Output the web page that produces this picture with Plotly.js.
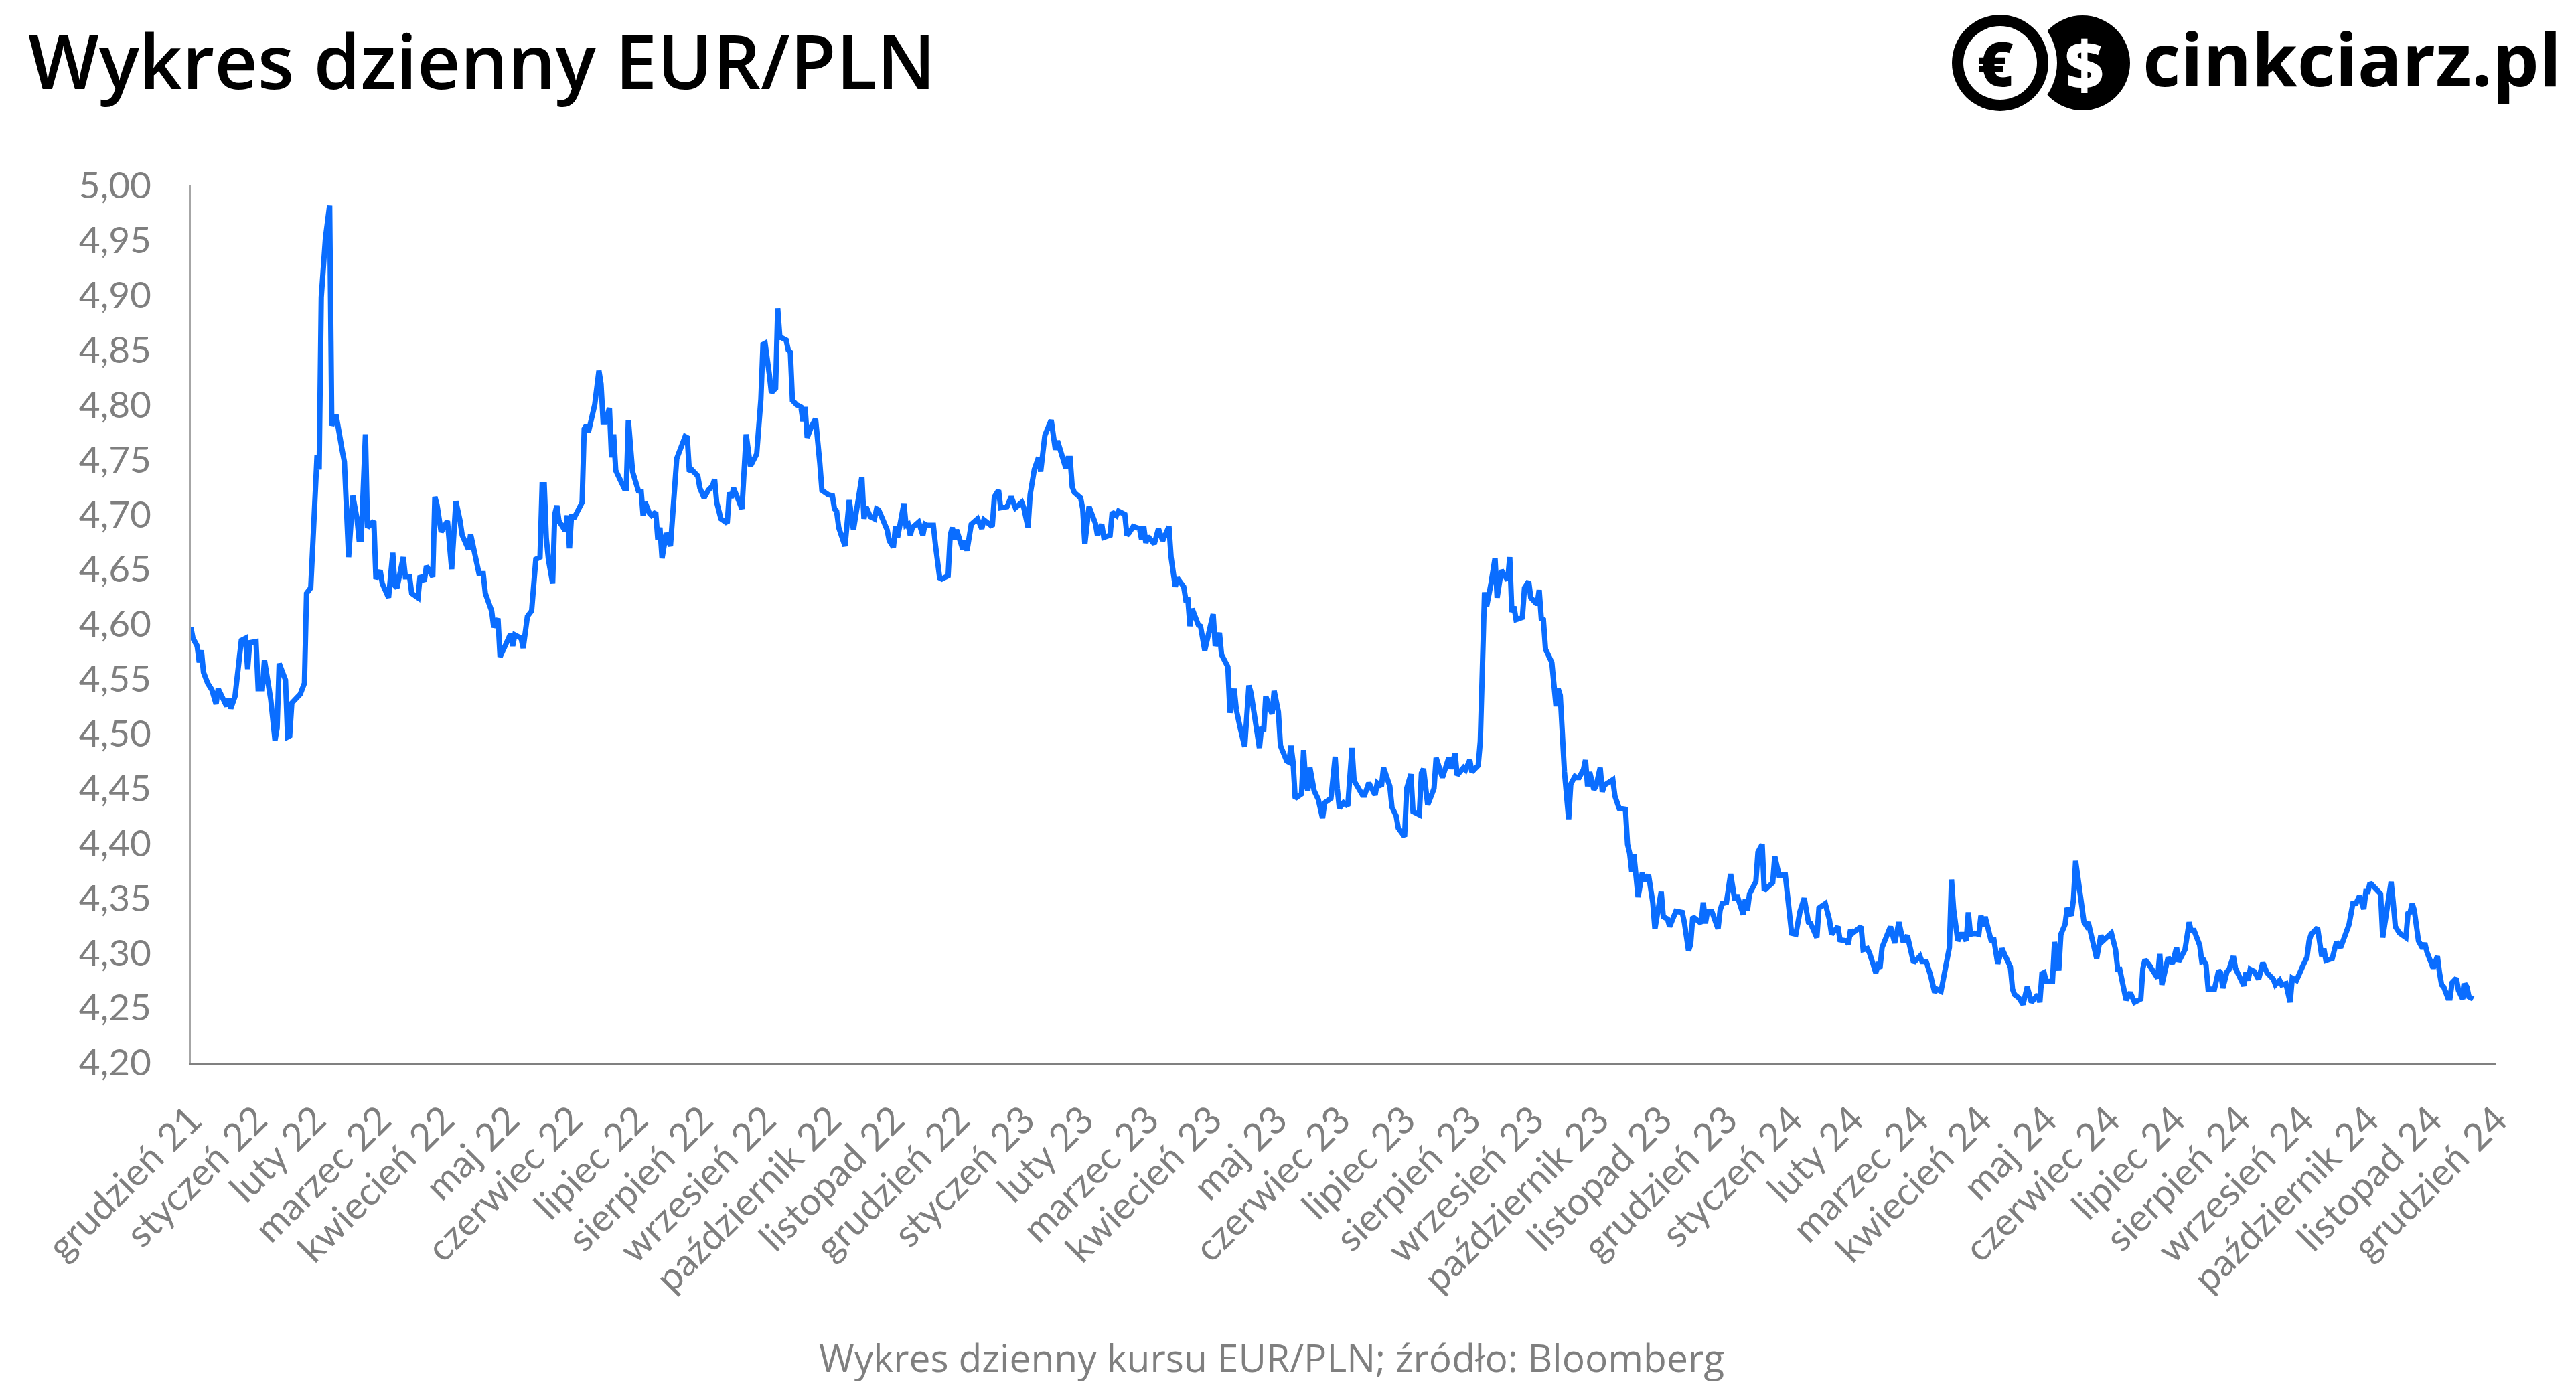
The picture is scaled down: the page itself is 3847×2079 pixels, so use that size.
<!DOCTYPE html>
<html>
<head>
<meta charset="utf-8">
<script src="https://cdn.plot.ly/plotly-3.0.1.min.js"></script>
<style>
html,body{margin:0;padding:0;background:#fff;}
#chart{width:3847px;height:2079px;}
</style>
</head>
<body>
<div id="chart"></div>
<script>
// ---- DATA ----
const dates = [
"2021-12-31","2022-01-01","2022-01-03","2022-01-04","2022-01-05","2022-01-06","2022-01-08","2022-01-10","2022-01-12","2022-01-13",
"2022-01-17","2022-01-18","2022-01-19","2022-01-21","2022-01-24","2022-01-26","2022-01-27","2022-01-28","2022-01-31","2022-02-01",
"2022-02-03","2022-02-04","2022-02-07","2022-02-09","2022-02-10","2022-02-11","2022-02-13","2022-02-14","2022-02-15","2022-02-16",
"2022-02-17","2022-02-21","2022-02-23","2022-02-24","2022-02-26","2022-02-28","2022-03-01","2022-03-02","2022-03-03","2022-03-05",
"2022-03-07","2022-03-08","2022-03-10","2022-03-13","2022-03-14","2022-03-16","2022-03-17","2022-03-18","2022-03-20","2022-03-21",
"2022-03-22","2022-03-24","2022-03-25","2022-03-28","2022-03-29","2022-03-31","2022-04-01","2022-04-04","2022-04-06","2022-04-07",
"2022-04-08","2022-04-11","2022-04-12","2022-04-14","2022-04-15","2022-04-18","2022-04-19","2022-04-21","2022-04-22","2022-04-25",
"2022-04-26","2022-04-27","2022-04-29","2022-05-02","2022-05-04","2022-05-06","2022-05-08","2022-05-09","2022-05-12","2022-05-13",
"2022-05-17","2022-05-19","2022-05-20","2022-05-23","2022-05-24","2022-05-26","2022-05-27","2022-05-30","2022-06-01","2022-06-02",
"2022-06-03","2022-06-06","2022-06-07","2022-06-09","2022-06-11","2022-06-13","2022-06-15","2022-06-16","2022-06-17","2022-06-18",
"2022-06-19","2022-06-21","2022-06-22","2022-06-23","2022-06-24","2022-06-27","2022-06-28","2022-06-29","2022-06-30","2022-07-01",
"2022-07-05","2022-07-06","2022-07-07","2022-07-08","2022-07-11","2022-07-13","2022-07-14","2022-07-15","2022-07-16","2022-07-18",
"2022-07-19","2022-07-20","2022-07-21","2022-07-25","2022-07-26","2022-07-27","2022-07-29","2022-08-01","2022-08-02","2022-08-03",
"2022-08-04","2022-08-06","2022-08-07","2022-08-09","2022-08-10","2022-08-11","2022-08-12","2022-08-14","2022-08-16","2022-08-19",
"2022-08-21","2022-08-23","2022-08-24","2022-08-25","2022-08-26","2022-08-29","2022-08-30","2022-09-01","2022-09-03","2022-09-05",
"2022-09-06","2022-09-07","2022-09-09","2022-09-12","2022-09-13","2022-09-14","2022-09-15","2022-09-19","2022-09-21","2022-09-23",
"2022-09-26","2022-09-28","2022-09-29","2022-09-30","2022-10-02","2022-10-03","2022-10-05","2022-10-06","2022-10-07","2022-10-10",
"2022-10-11","2022-10-12","2022-10-13","2022-10-15","2022-10-17","2022-10-18","2022-10-19","2022-10-20","2022-10-22","2022-10-24",
"2022-10-26","2022-10-27","2022-10-30","2022-11-01","2022-11-02","2022-11-03","2022-11-04","2022-11-07","2022-11-09","2022-11-11",
"2022-11-13","2022-11-15","2022-11-16","2022-11-17","2022-11-19","2022-11-21","2022-11-22","2022-11-23","2022-11-25","2022-11-27",
"2022-11-28","2022-11-30","2022-12-01","2022-12-02","2022-12-05","2022-12-06","2022-12-07","2022-12-08","2022-12-09","2022-12-12",
"2022-12-14","2022-12-15","2022-12-16","2022-12-19","2022-12-20","2022-12-22","2022-12-23","2022-12-26","2022-12-27","2022-12-28",
"2022-12-29","2022-12-30","2023-01-02","2023-01-03","2023-01-04","2023-01-05","2023-01-06","2023-01-09","2023-01-11","2023-01-12",
"2023-01-16","2023-01-17","2023-01-19","2023-01-20","2023-01-23","2023-01-25","2023-01-27","2023-01-30","2023-01-31","2023-02-02",
"2023-02-03","2023-02-05","2023-02-07","2023-02-08","2023-02-10","2023-02-13","2023-02-15","2023-02-16","2023-02-20","2023-02-21",
"2023-02-22","2023-02-23","2023-02-24","2023-02-27","2023-02-28","2023-03-01","2023-03-03","2023-03-06","2023-03-07","2023-03-09",
"2023-03-10","2023-03-13","2023-03-14","2023-03-16","2023-03-17","2023-03-20","2023-03-21","2023-03-22","2023-03-24","2023-03-27",
"2023-03-28","2023-03-29","2023-03-30","2023-03-31","2023-04-03","2023-04-05","2023-04-07","2023-04-10","2023-04-11","2023-04-13",
"2023-04-14","2023-04-17","2023-04-18","2023-04-19","2023-04-20","2023-04-21","2023-04-24","2023-04-25","2023-04-27","2023-05-01",
"2023-05-02","2023-05-04","2023-05-05","2023-05-08","2023-05-09","2023-05-11","2023-05-12","2023-05-14","2023-05-16","2023-05-18",
"2023-05-19","2023-05-23","2023-05-24","2023-05-25","2023-05-26","2023-05-29","2023-05-30","2023-06-01","2023-06-02","2023-06-05",
"2023-06-06","2023-06-07","2023-06-08","2023-06-09","2023-06-12","2023-06-13","2023-06-14","2023-06-15","2023-06-16","2023-06-18",
"2023-06-20","2023-06-22","2023-06-23","2023-06-26","2023-06-28","2023-06-29","2023-06-30","2023-07-02","2023-07-04","2023-07-06",
"2023-07-07","2023-07-11","2023-07-12","2023-07-14","2023-07-17","2023-07-18","2023-07-20","2023-07-21","2023-07-24","2023-07-25",
"2023-07-27","2023-07-28","2023-07-31","2023-08-01","2023-08-03","2023-08-04","2023-08-07","2023-08-08","2023-08-09","2023-08-11",
"2023-08-14","2023-08-15","2023-08-16","2023-08-18","2023-08-21","2023-08-22","2023-08-24","2023-08-25","2023-08-28","2023-08-29",
"2023-08-31","2023-09-01","2023-09-04","2023-09-05","2023-09-07","2023-09-08","2023-09-10","2023-09-12","2023-09-13","2023-09-15",
"2023-09-18","2023-09-19","2023-09-20","2023-09-21","2023-09-22","2023-09-25","2023-09-26","2023-09-28","2023-09-29","2023-10-02",
"2023-10-03","2023-10-04","2023-10-05","2023-10-06","2023-10-09","2023-10-10","2023-10-11","2023-10-12","2023-10-13","2023-10-15",
"2023-10-17","2023-10-18","2023-10-20","2023-10-21","2023-10-22","2023-10-24","2023-10-25","2023-10-26","2023-10-27","2023-10-29",
"2023-10-30","2023-11-01","2023-11-02","2023-11-03","2023-11-07","2023-11-08","2023-11-10","2023-11-13","2023-11-14","2023-11-15",
"2023-11-16","2023-11-17","2023-11-19","2023-11-21","2023-11-22","2023-11-24","2023-11-26","2023-11-27","2023-11-30","2023-12-01",
"2023-12-03","2023-12-04","2023-12-07","2023-12-10","2023-12-11","2023-12-13","2023-12-14","2023-12-15","2023-12-19","2023-12-20",
"2023-12-21","2023-12-22","2023-12-24","2023-12-27","2023-12-28","2023-12-29","2023-12-31","2024-01-02","2024-01-03","2024-01-04",
"2024-01-05","2024-01-08","2024-01-09","2024-01-10","2024-01-11","2024-01-14","2024-01-15","2024-01-17","2024-01-18","2024-01-22",
"2024-01-23","2024-01-24","2024-01-25","2024-01-28","2024-01-30","2024-01-31","2024-02-02","2024-02-04","2024-02-06","2024-02-08",
"2024-02-09","2024-02-12","2024-02-13","2024-02-16","2024-02-18","2024-02-19","2024-02-22","2024-02-23","2024-02-26","2024-02-27",
"2024-02-28","2024-02-29","2024-03-04","2024-03-05","2024-03-07","2024-03-08","2024-03-11","2024-03-12","2024-03-13","2024-03-14",
"2024-03-18","2024-03-20","2024-03-22","2024-03-24","2024-03-26","2024-03-27","2024-03-29","2024-04-01","2024-04-02","2024-04-04",
"2024-04-06","2024-04-08","2024-04-09","2024-04-11","2024-04-13","2024-04-15","2024-04-16","2024-04-17","2024-04-19","2024-04-21",
"2024-04-23","2024-04-24","2024-04-25","2024-04-27","2024-04-29","2024-04-30","2024-05-01","2024-05-02","2024-05-05","2024-05-06",
"2024-05-08","2024-05-10","2024-05-14","2024-05-15","2024-05-16","2024-05-18","2024-05-20","2024-05-22","2024-05-24","2024-05-27",
"2024-05-28","2024-05-29","2024-05-30","2024-05-31","2024-06-03","2024-06-04","2024-06-06","2024-06-07","2024-06-09","2024-06-10",
"2024-06-12","2024-06-13","2024-06-14","2024-06-18","2024-06-19","2024-06-20","2024-06-24","2024-06-26","2024-06-27","2024-07-01",
"2024-07-03","2024-07-04","2024-07-05","2024-07-07","2024-07-08","2024-07-10","2024-07-12","2024-07-15","2024-07-16","2024-07-17",
"2024-07-19","2024-07-23","2024-07-24","2024-07-25","2024-07-28","2024-07-30","2024-08-01","2024-08-02","2024-08-05","2024-08-07",
"2024-08-08","2024-08-09","2024-08-12","2024-08-13","2024-08-14","2024-08-15","2024-08-16","2024-08-19","2024-08-21","2024-08-22",
"2024-08-23","2024-08-25","2024-08-26","2024-08-28","2024-08-29","2024-09-02","2024-09-03","2024-09-04","2024-09-05","2024-09-07",
"2024-09-09","2024-09-11","2024-09-12","2024-09-13","2024-09-16","2024-09-17","2024-09-19","2024-09-20","2024-09-22","2024-09-24",
"2024-09-25","2024-09-27","2024-09-30","2024-10-02","2024-10-03","2024-10-04","2024-10-07","2024-10-08","2024-10-09","2024-10-10",
"2024-10-11","2024-10-14","2024-10-16","2024-10-18","2024-10-21","2024-10-22","2024-10-24","2024-10-25","2024-10-27","2024-10-29",
"2024-10-30","2024-10-31","2024-11-01","2024-11-03","2024-11-06","2024-11-07","2024-11-08","2024-11-11","2024-11-12","2024-11-13",
"2024-11-15","2024-11-18","2024-11-19","2024-11-20","2024-11-21","2024-11-22","2024-11-24","2024-11-26","2024-11-27","2024-11-28",
"2024-12-01","2024-12-03","2024-12-04","2024-12-05","2024-12-06","2024-12-08","2024-12-09","2024-12-10","2024-12-12","2024-12-13",
"2024-12-15","2024-12-16","2024-12-17","2024-12-18","2024-12-20"
];
const eurpln = [
4.597,4.587,4.580,4.565,4.576,4.556,4.546,4.540,4.527,4.541,
4.525,4.532,4.523,4.534,4.585,4.587,4.559,4.583,4.584,4.541,
4.541,4.567,4.531,4.494,4.505,4.564,4.554,4.549,4.497,4.498,
4.528,4.536,4.546,4.628,4.633,4.700,4.754,4.741,4.898,4.952,
4.982,4.781,4.791,4.758,4.748,4.661,4.686,4.717,4.696,4.677,
4.677,4.773,4.688,4.694,4.641,4.649,4.637,4.624,4.665,4.635,
4.633,4.661,4.643,4.643,4.628,4.624,4.644,4.639,4.653,4.643,
4.716,4.709,4.684,4.694,4.650,4.712,4.694,4.681,4.668,4.682,
4.646,4.646,4.628,4.612,4.597,4.605,4.570,4.584,4.591,4.580,
4.590,4.587,4.578,4.607,4.612,4.659,4.661,4.727,4.727,4.678,
4.659,4.637,4.700,4.708,4.694,4.685,4.699,4.669,4.700,4.696,
4.711,4.778,4.781,4.775,4.800,4.831,4.819,4.784,4.784,4.797,
4.752,4.773,4.740,4.724,4.724,4.786,4.739,4.720,4.723,4.699,
4.711,4.701,4.699,4.702,4.677,4.688,4.660,4.683,4.671,4.751,
4.762,4.771,4.770,4.739,4.741,4.735,4.724,4.715,4.722,4.726,
4.732,4.711,4.696,4.692,4.720,4.715,4.724,4.705,4.773,4.744,
4.755,4.805,4.855,4.856,4.828,4.811,4.815,4.888,4.862,4.859,
4.850,4.848,4.804,4.800,4.798,4.785,4.798,4.770,4.780,4.787,
4.747,4.722,4.718,4.717,4.705,4.703,4.688,4.671,4.713,4.686,
4.710,4.734,4.696,4.707,4.698,4.696,4.705,4.704,4.695,4.686,
4.676,4.670,4.689,4.679,4.710,4.690,4.691,4.681,4.688,4.693,
4.681,4.691,4.690,4.690,4.672,4.642,4.641,4.644,4.681,4.688,
4.677,4.686,4.668,4.676,4.667,4.684,4.691,4.696,4.687,4.695,
4.689,4.716,4.722,4.706,4.707,4.716,4.706,4.711,4.706,4.688,
4.718,4.741,4.752,4.739,4.772,4.786,4.759,4.767,4.742,4.751,
4.751,4.725,4.720,4.715,4.705,4.673,4.707,4.692,4.681,4.691,
4.679,4.681,4.702,4.699,4.703,4.700,4.681,4.683,4.689,4.687,
4.677,4.689,4.674,4.680,4.673,4.687,4.676,4.689,4.661,4.634,
4.642,4.634,4.622,4.622,4.598,4.614,4.599,4.598,4.576,4.609,
4.580,4.592,4.572,4.561,4.519,4.541,4.522,4.504,4.488,4.544,
4.537,4.487,4.506,4.502,4.534,4.518,4.539,4.520,4.489,4.475,
4.474,4.489,4.474,4.441,4.445,4.485,4.455,4.448,4.469,4.448,
4.440,4.423,4.437,4.441,4.479,4.450,4.432,4.437,4.434,4.487,
4.457,4.444,4.444,4.455,4.444,4.455,4.452,4.469,4.452,4.433,
4.425,4.414,4.406,4.450,4.463,4.429,4.426,4.464,4.468,4.435,
4.450,4.478,4.471,4.460,4.478,4.468,4.482,4.462,4.469,4.467,
4.476,4.465,4.471,4.493,4.629,4.616,4.636,4.660,4.624,4.649,
4.640,4.661,4.611,4.616,4.604,4.606,4.633,4.639,4.624,4.618,
4.631,4.605,4.604,4.577,4.565,4.541,4.525,4.541,4.535,4.465,
4.422,4.454,4.461,4.460,4.460,4.467,4.476,4.452,4.465,4.449,
4.452,4.469,4.447,4.453,4.458,4.443,4.432,4.431,4.399,4.391,
4.374,4.390,4.351,4.373,4.366,4.371,4.346,4.322,4.356,4.333,
4.331,4.324,4.338,4.337,4.328,4.302,4.308,4.333,4.327,4.346,
4.327,4.338,4.338,4.322,4.339,4.345,4.346,4.372,4.356,4.348,
4.353,4.335,4.349,4.339,4.354,4.365,4.392,4.399,4.357,4.364,
4.388,4.376,4.371,4.371,4.330,4.318,4.317,4.338,4.350,4.328,
4.327,4.314,4.341,4.345,4.330,4.317,4.324,4.312,4.311,4.308,
4.321,4.318,4.324,4.303,4.304,4.300,4.282,4.288,4.286,4.305,
4.324,4.309,4.328,4.310,4.316,4.307,4.291,4.297,4.292,4.292,
4.280,4.264,4.267,4.265,4.287,4.305,4.367,4.340,4.311,4.318,
4.311,4.337,4.317,4.318,4.317,4.334,4.324,4.333,4.310,4.314,
4.290,4.304,4.287,4.267,4.262,4.259,4.253,4.269,4.255,4.262,
4.255,4.281,4.282,4.274,4.274,4.310,4.284,4.317,4.326,4.341,
4.334,4.349,4.384,4.328,4.325,4.328,4.295,4.316,4.311,4.318,
4.303,4.285,4.285,4.269,4.257,4.264,4.255,4.258,4.286,4.294,
4.289,4.277,4.299,4.271,4.296,4.290,4.305,4.292,4.303,4.328,
4.319,4.322,4.307,4.292,4.293,4.289,4.267,4.267,4.284,4.282,
4.268,4.283,4.285,4.297,4.286,4.270,4.282,4.275,4.285,4.283,
4.276,4.291,4.287,4.282,4.276,4.271,4.275,4.271,4.272,4.255,
4.277,4.275,4.288,4.296,4.311,4.317,4.323,4.305,4.297,4.304,
4.293,4.295,4.310,4.305,4.322,4.326,4.347,4.344,4.352,4.340,
4.356,4.356,4.364,4.360,4.354,4.314,4.326,4.365,4.346,4.324,
4.318,4.314,4.336,4.337,4.345,4.339,4.311,4.304,4.309,4.301,
4.286,4.297,4.282,4.271,4.269,4.259,4.259,4.273,4.277,4.266,
4.258,4.272,4.269,4.260,4.258
];
const tickDates = [
"2021-12-31","2022-01-31","2022-02-28","2022-03-31","2022-04-30","2022-05-31","2022-06-30","2022-07-31","2022-08-31","2022-09-30",
"2022-10-31","2022-11-30","2022-12-31","2023-01-31","2023-02-28","2023-03-31","2023-04-30","2023-05-31","2023-06-30","2023-07-31",
"2023-08-31","2023-09-30","2023-10-31","2023-11-30","2023-12-31","2024-01-31","2024-02-29","2024-03-31","2024-04-30","2024-05-31",
"2024-06-30","2024-07-31","2024-08-31","2024-09-30","2024-10-31","2024-11-30","2024-12-31"
];
const tickLabels = [
"grudzień 21","styczeń 22","luty 22","marzec 22","kwiecień 22","maj 22","czerwiec 22","lipiec 22","sierpień 22","wrzesień 22",
"październik 22","listopad 22","grudzień 22","styczeń 23","luty 23","marzec 23","kwiecień 23","maj 23","czerwiec 23","lipiec 23",
"sierpień 23","wrzesień 23","październik 23","listopad 23","grudzień 23","styczeń 24","luty 24","marzec 24","kwiecień 24","maj 24",
"czerwiec 24","lipiec 24","sierpień 24","wrzesień 24","październik 24","listopad 24","grudzień 24"
];
const titleText = "Wykres dzienny EUR/PLN";
const sourceText = "Wykres dzienny kursu EUR/PLN; źródło: Bloomberg";
const logoText = "cinkciarz.pl";

// ---- LAYOUT ----
const W = 3847, H = 2079;
const M = {l: 285, r: 119, t: 277, b: 492};
const PW = W - M.l - M.r, PH = H - M.t - M.b;
const px = x => (x - M.l) / PW;          // page pixel -> paper x
const py = y => (H - M.b - y) / PH;      // page pixel -> paper y
const GRAY = '#7f7f7f';

function circle(cx, cy, r, color) {
  return {type: 'circle', xref: 'paper', yref: 'paper', xsizemode: 'pixel', ysizemode: 'pixel',
    xanchor: px(cx), yanchor: py(cy), x0: -r, x1: r, y0: -r, y1: r,
    fillcolor: color, line: {width: 0}, layer: 'above'};
}

const trace = {
  x: dates, y: eurpln, type: 'scatter', mode: 'lines',
  line: {color: '#0a6dff', width: 8}, hoverinfo: 'skip'
};

const layout = {
  width: W, height: H,
  margin: M,
  paper_bgcolor: '#ffffff', plot_bgcolor: '#ffffff',
  showlegend: false,
  separators: ', ',
  font: {family: 'Lato, sans-serif', color: GRAY},
  xaxis: {
    type: 'date', range: ['2021-12-31', '2024-12-31'],
    tickmode: 'array', tickvals: tickDates, ticktext: tickLabels,
    tickangle: -45, tickfont: {family: 'Lato, sans-serif', size: 57, color: GRAY},
    ticks: '', ticklabelstandoff: 26,
    showgrid: false, zeroline: false,
    showline: true, linecolor: '#808080', linewidth: 3, automargin: false
  },
  yaxis: {
    range: [4.2, 5.0], tickmode: 'linear', tick0: 4.2, dtick: 0.05, tickformat: '.2f',
    tickfont: {family: 'Lato, sans-serif', size: 55, color: GRAY},
    ticks: '', ticklabelstandoff: 45,
    showgrid: false, zeroline: false,
    showline: true, linecolor: '#a6a6a6', linewidth: 3, automargin: false
  },
  shapes: [
    circle(3110, 94, 71, '#000000'),
    circle(2987, 94, 85, '#ffffff'),
    circle(2987, 94, 72, '#000000'),
    circle(2987, 94, 55, '#ffffff')
  ],
  annotations: [
    {text: titleText, xref: 'paper', yref: 'paper', x: px(40), y: py(90), xanchor: 'left', yanchor: 'middle',
     showarrow: false, font: {family: 'Open Sans, sans-serif', size: 112, color: '#000000', weight: 600}},
    {text: '€', xref: 'paper', yref: 'paper', x: px(2980), y: py(94), xanchor: 'center', yanchor: 'middle',
     showarrow: false, font: {family: 'Open Sans, sans-serif', size: 92, color: '#000000', weight: 800}},
    {text: '$', xref: 'paper', yref: 'paper', x: px(3113), y: py(94), xanchor: 'center', yanchor: 'middle',
     showarrow: false, font: {family: 'Open Sans, sans-serif', size: 100, color: '#ffffff', weight: 800}},
    {text: logoText, xref: 'paper', yref: 'paper', x: px(3198), y: py(86), xanchor: 'left', yanchor: 'middle',
     showarrow: false, font: {family: 'Open Sans, sans-serif', size: 110, color: '#000000', weight: 700}},
    {text: sourceText, xref: 'paper', yref: 'paper', x: px(1899), y: py(2027), xanchor: 'center', yanchor: 'middle',
     showarrow: false, font: {family: 'Open Sans, sans-serif', size: 57, color: GRAY, weight: 400}}
  ]
};

Plotly.newPlot('chart', [trace], layout, {staticPlot: true, displayModeBar: false});
</script>
</body>
</html>
